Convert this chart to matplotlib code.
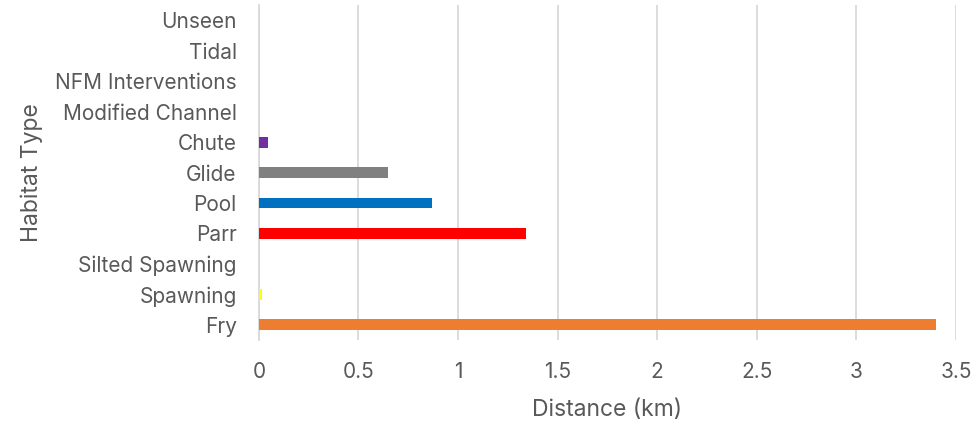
import matplotlib
matplotlib.use('Agg')
import matplotlib.pyplot as plt

habitats = ['Fry', 'Spawning', 'Silted Spawning', 'Parr', 'Pool', 'Glide',
            'Chute', 'Modified Channel', 'NFM Interventions', 'Tidal', 'Unseen']
distance = [3.40, 0.015, 0, 1.34, 0.87, 0.65, 0.045, 0, 0, 0, 0]
colours = ['#ED7D31', '#FFFF00', '#A5A5A5', '#FF0000', '#0070C0', '#808080',
           '#7030A0', '#4472C4', '#70AD47', '#5B9BD5', '#264478']
xticks = [0, 0.5, 1, 1.5, 2, 2.5, 3, 3.5]

plt.rcParams['font.family'] = ['Inter', 'DejaVu Sans']

fig = plt.figure(figsize=(9.77, 4.25), dpi=100)
ax = fig.add_axes([0.265, 0.2, 0.7135, 0.788])

ax.barh(range(len(habitats)), distance, height=0.36, color=colours, zorder=3)
ax.set_xlim(0, 3.5)
ax.set_ylim(-0.5, len(habitats) - 0.5)
ax.set_xticks(xticks)
ax.set_xticklabels([f'{v:g}' for v in xticks])
ax.set_yticks(range(len(habitats)))
ax.set_yticklabels(habitats)

ax.grid(axis='x', color='#D9D9D9', lw=1.3, zorder=0)
for s in ['top', 'right', 'bottom']:
    ax.spines[s].set_visible(False)
ax.spines['left'].set_color('#D9D9D9')
ax.spines['left'].set_linewidth(1.3)
ax.tick_params(length=0, labelsize=15, labelcolor='#595959')
ax.tick_params(axis='x', pad=16)
ax.tick_params(axis='y', pad=16)

ax.set_xlabel('Distance (km)', fontsize=16.5, color='#595959', labelpad=12)
ax.set_ylabel('Habitat Type', fontsize=16.5, color='#595959', labelpad=9)

fig.savefig('out.png', dpi=100)
